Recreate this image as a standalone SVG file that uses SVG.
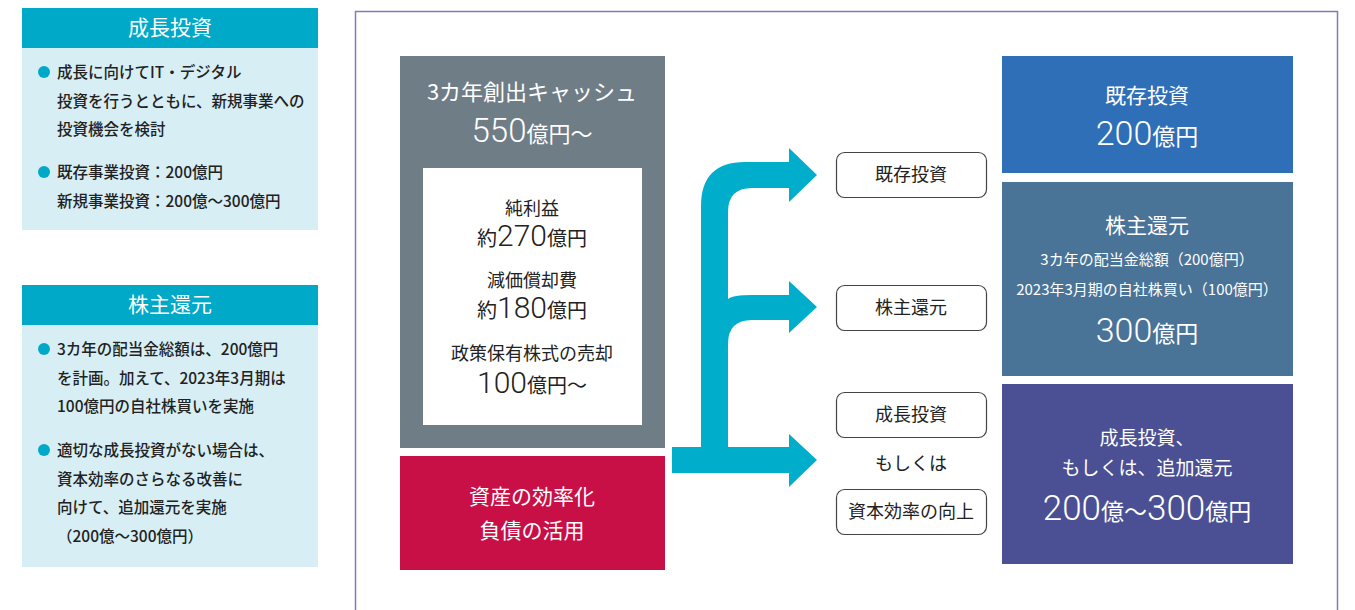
<svg xmlns="http://www.w3.org/2000/svg" width="1355" height="610" viewBox="0 0 1355 610">
<defs>
<style>
text{font-family:"Noto Sans CJK JP","Noto Sans",sans-serif;}
.hd{fill:#00A9C8;}
.bd{fill:#D7EEF5;}
.hdt{fill:#fff;font-size:21px;text-anchor:middle;}
.bt{fill:#222;font-size:15.5px;font-weight:500;}
.dot{fill:#00A9C8;}
.w{fill:#fff;text-anchor:middle;}
.k{fill:#222;text-anchor:middle;}
.pill{fill:#fff;stroke:#444;stroke-width:1.2;}
.pt{fill:#222;font-size:18px;text-anchor:middle;}
.num{font-family:"Roboto","Liberation Sans",sans-serif;font-weight:300;}
</style>
</defs>
<rect width="1355" height="610" fill="#fff"/>

<g id="left-growth">
<rect class="hd" x="22" y="8" width="296" height="40"/>
<rect class="bd" x="22" y="48" width="296" height="182"/>
<text class="hdt" x="170" y="35">成長投資</text>
<circle class="dot" cx="44" cy="72" r="6"/>
<text class="bt" x="57" y="78">成長に向けてIT・デジタル</text>
<text class="bt" x="57" y="107">投資を行うとともに、新規事業への</text>
<text class="bt" x="57" y="135">投資機会を検討</text>
<circle class="dot" cx="44" cy="172" r="6"/>
<text class="bt" x="57" y="178">既存事業投資：200億円</text>
<text class="bt" x="57" y="207">新規事業投資：200億～300億円</text>
</g>

<g id="left-return">
<rect class="hd" x="22" y="285" width="296" height="40"/>
<rect class="bd" x="22" y="325" width="296" height="242"/>
<text class="hdt" x="170" y="312">株主還元</text>
<circle class="dot" cx="44" cy="349" r="6"/>
<text class="bt" x="57" y="355">3カ年の配当金総額は、200億円</text>
<text class="bt" x="57" y="384">を計画。加えて、2023年3月期は</text>
<text class="bt" x="57" y="412">100億円の自社株買いを実施</text>
<circle class="dot" cx="44" cy="450" r="6"/>
<text class="bt" x="57" y="456">適切な成長投資がない場合は、</text>
<text class="bt" x="57" y="485">資本効率のさらなる改善に</text>
<text class="bt" x="57" y="513">向けて、追加還元を実施</text>
<text class="bt" x="57" y="542">（200億～300億円）</text>
</g>

<rect id="frame" x="355.5" y="11.5" width="982" height="620" fill="none" stroke="#7F7BC0" stroke-width="1.5"/>

<g id="cash">
<rect x="400" y="56" width="265" height="392" fill="#6F7D87"/>
<text class="w" x="532" y="100" font-size="22" fill="#F2F2F2">3カ年創出キャッシュ</text>
<text class="w" x="532" y="142"><tspan class="num" font-size="33">550</tspan><tspan font-size="22">億円～</tspan></text>
<rect x="423" y="168" width="219" height="257" fill="#fff"/>
<text class="k" x="532" y="215" font-size="18">純利益</text>
<text class="k" x="532" y="246"><tspan font-size="20">約</tspan><tspan class="num" font-size="30" font-weight="400">270</tspan><tspan font-size="20">億円</tspan></text>
<text class="k" x="532" y="287" font-size="18">減価償却費</text>
<text class="k" x="532" y="318"><tspan font-size="20">約</tspan><tspan class="num" font-size="30" font-weight="400">180</tspan><tspan font-size="20">億円</tspan></text>
<text class="k" x="532" y="360" font-size="18">政策保有株式の売却</text>
<text class="k" x="532" y="393"><tspan class="num" font-size="30" font-weight="400">100</tspan><tspan font-size="20">億円～</tspan></text>
</g>

<g id="asset">
<rect x="400" y="456" width="265" height="114" fill="#C80F46"/>
<text class="w" x="532" y="504" font-size="21">資産の効率化</text>
<text class="w" x="532" y="538" font-size="21">負債の活用</text>
</g>

<g id="connectors">
<path fill="#00AECB" d="M672,447 L701,447 L701,206 Q701,162 745,162 L789,162 L789,148 L817,175 L789,202 L789,188 L752,188 Q728,188 728,212 L728,299 Q733,295 752,295 L789,295 L789,281 L817,307 L789,333 L789,320 L752,320 Q728,320 728,344 L728,447 L789,447 L789,434 L817,460 L789,487 L789,473 L672,473 Z"/>
</g>

<g id="pill-existing">
<rect class="pill" x="836.5" y="152.5" width="150" height="45" rx="8"/>
<text class="pt" x="911" y="181">既存投資</text>
</g>
<g id="pill-return">
<rect class="pill" x="836.5" y="285.5" width="150" height="45" rx="8"/>
<text class="pt" x="911" y="314">株主還元</text>
</g>
<g id="pill-growth">
<rect class="pill" x="836.5" y="392.5" width="150" height="45" rx="8"/>
<text class="pt" x="911" y="421">成長投資</text>
</g>
<text id="or-label" class="pt" x="911" y="470">もしくは</text>
<g id="pill-efficiency">
<rect class="pill" x="836.5" y="489.5" width="150" height="45" rx="8"/>
<text class="pt" x="911" y="518">資本効率の向上</text>
</g>

<g id="right-existing">
<rect x="1002" y="56" width="291" height="117" fill="#2F6FB7"/>
<text class="w" x="1147" y="103" font-size="21">既存投資</text>
<text class="w" x="1147" y="145"><tspan class="num" font-size="34">200</tspan><tspan font-size="23">億円</tspan></text>
</g>
<g id="right-return">
<rect x="1002" y="182" width="291" height="194" fill="#4A7398"/>
<text class="w" x="1147" y="233" font-size="21">株主還元</text>
<text class="w" x="1147" y="265" font-size="15">3カ年の配当金総額（200億円）</text>
<text class="w" x="1147" y="295" font-size="15">2023年3月期の自社株買い（100億円）</text>
<text class="w" x="1147" y="342"><tspan class="num" font-size="34">300</tspan><tspan font-size="23">億円</tspan></text>
</g>
<g id="right-growth">
<rect x="1002" y="384" width="291" height="180" fill="#4A5093"/>
<text class="w" x="1147" y="445" font-size="19">成長投資、</text>
<text class="w" x="1147" y="475" font-size="19">もしくは、追加還元</text>
<text class="w" x="1147" y="520"><tspan class="num" font-size="35">200</tspan><tspan font-size="23">億～</tspan><tspan class="num" font-size="35">300</tspan><tspan font-size="23">億円</tspan></text>
</g>
</svg>
